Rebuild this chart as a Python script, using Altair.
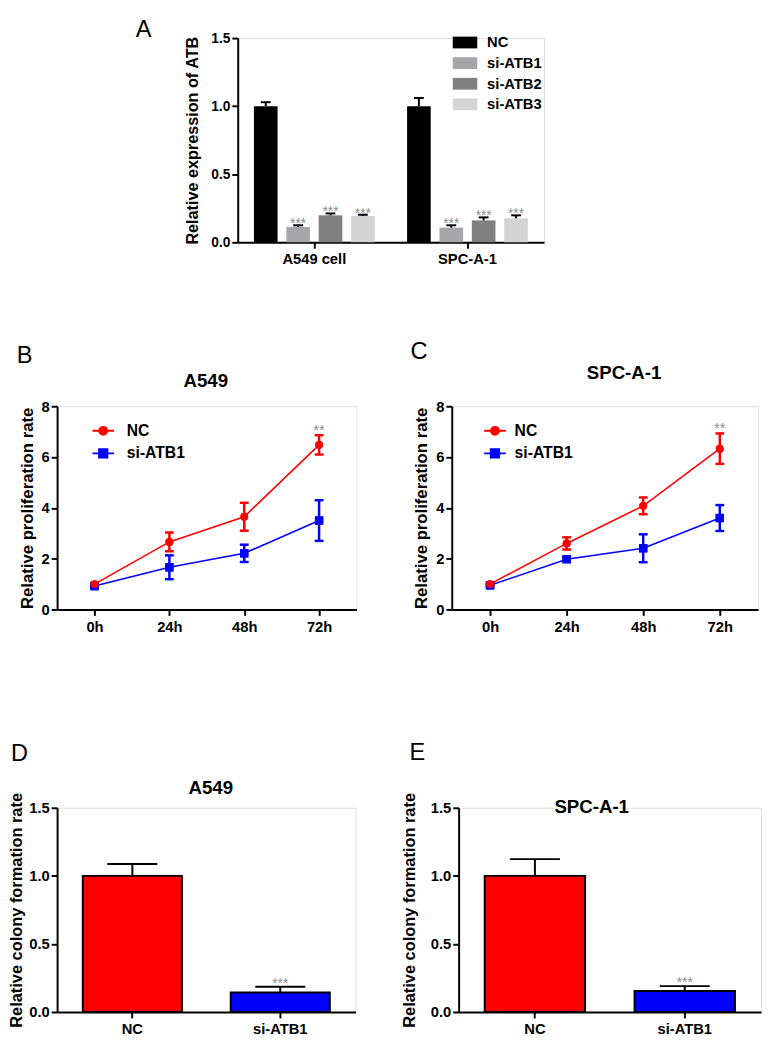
import altair as alt
import pandas as pd

FONT = "Liberation Sans"
STAR_COLOR = "#8c8c8c"

# ---------------- Panel A data ----------------
a_cells = ["A549 cell", "SPC-A-1"]
a_groups = ["NC", "si-ATB1", "si-ATB2", "si-ATB3"]
a_colors = ["#000000", "#a6a6aa", "#808080", "#d4d4d4"]
a_a549_mean = [1.0, 0.113, 0.198, 0.193]
a_a549_err = [0.029, 0.012, 0.014, 0.009]
a_spc_mean = [1.0, 0.108, 0.161, 0.176]
a_spc_err = [0.06, 0.017, 0.022, 0.022]
a_stars = ["", "***", "***", "***"]

# ---------------- Panels B, C data ----------------
times = ["0h", "24h", "48h", "72h"]
series = ["NC", "si-ATB1"]
series_colors = ["#ff0000", "#0000ff"]
b_nc_mean = [1.0, 2.66, 3.65, 6.48]
b_nc_err = [0.04, 0.37, 0.55, 0.38]
b_si_mean = [0.92, 1.66, 2.21, 3.5]
b_si_err = [0.05, 0.47, 0.34, 0.8]
c_nc_mean = [1.0, 2.6, 4.08, 6.33]
c_nc_err = [0.04, 0.24, 0.33, 0.6]
c_si_mean = [0.95, 1.98, 2.41, 3.6]
c_si_err = [0.05, 0.08, 0.55, 0.51]
line_stars = ["", "", "", "**"]

# ---------------- Panels D, E data ----------------
bar_groups = ["NC", "si-ATB1"]
d_mean = [1.0, 0.144]
d_err = [0.087, 0.041]
e_mean = [1.0, 0.154]
e_err = [0.123, 0.036]
bar_stars = ["", "***"]

NC_PATH = "M-2.75,0H2.75M-1,0A1,1,0,1,0,1,0A1,1,0,1,0,-1,0Z"
SQ_PATH = "M-2.75,0H2.75M-1.05,-1.05H1.05V1.05H-1.05Z"
RECT_PATH = "M-1,-0.48H1V0.48H-1Z"

INDEP = dict(color="independent", fill="independent", stroke="independent",
             shape="independent")
NOVIEW = alt.ViewBackground(stroke="transparent", strokeWidth=0, fill="transparent")


def y_axis(title, values, fmt, title_pad, title_size=17, label_size=15):
    return alt.Axis(title=title, values=values, format=fmt, grid=False,
                    domainColor="black", domainWidth=2, tickColor="black",
                    tickWidth=2, tickSize=6, labelPadding=2, labelFont=FONT,
                    labelFontSize=label_size, labelFontWeight="bold", labelColor="black",
                    titleFont=FONT, titleFontSize=title_size, titleFontWeight="bold",
                    titleColor="black", titlePadding=title_pad)


def x_axis():
    return alt.Axis(title=None, labelAngle=0, domainColor="black", domainWidth=2,
                    tickColor="black", tickWidth=2, tickSize=6, labelPadding=4,
                    labelFont=FONT, labelFontSize=15, labelFontWeight="bold",
                    labelColor="black", grid=False)


def top_axis(title, tx, ty):
    return alt.Axis(orient="top", domain=False, ticks=False, labels=False, grid=False,
                    title=title, titleX=tx, titleY=ty, titleAlign="center",
                    titleBaseline="middle", titleFont=FONT, titleFontSize=19,
                    titleFontWeight="bold", titleColor="black")


def letter_title(letter, dx, dy, offset=0):
    return alt.TitleParams(letter, anchor="start", frame="group", dx=dx, dy=dy,
                           offset=offset, font=FONT, fontSize=24, fontWeight="normal",
                           color="black")


def spacer(w, h):
    return alt.Chart(pd.DataFrame({"v": [0]})).mark_rule(strokeOpacity=0, opacity=0).encode(
        x=alt.value(0), y=alt.value(0), y2=alt.value(1)).properties(width=w, height=h, view=NOVIEW)


# ---------------- Panel A ----------------
a_rows = []
for cell, means, errs in [("A549 cell", a_a549_mean, a_a549_err),
                          ("SPC-A-1", a_spc_mean, a_spc_err)]:
    for g, m, e, st in zip(a_groups, means, errs, a_stars):
        a_rows.append(dict(cell=cell, group=g, mean=m, hi=m + e, star=st))
dfa = pd.DataFrame(a_rows)

xs_a = alt.Scale(domain=a_cells, paddingInner=0, paddingOuter=0)
xo_a = alt.XOffset("group:N", scale=alt.Scale(domain=a_groups, paddingInner=0.27, paddingOuter=0.5))
ys_a = alt.Scale(domain=[0, 1.5], nice=False)
yax_a = y_axis("Relative expression of ATB", [0, 0.5, 1.0, 1.5], ".1f", 11, 16.5, 14)

legend_a = alt.Legend(orient="none", legendX=219, legendY=-8, title=None,
                      symbolType=RECT_PATH, symbolSize=625, symbolStrokeWidth=0,
                      labelFont=FONT, labelFontSize=15, labelFontWeight="bold",
                      labelColor="black", rowPadding=-1, labelOffset=10, padding=0)

base_a = alt.Chart(dfa)
bars_a = base_a.mark_bar().encode(
    x=alt.X("cell:N", scale=xs_a, axis=x_axis()),
    xOffset=xo_a,
    y=alt.Y("mean:Q", scale=ys_a, axis=yax_a),
    color=alt.Color("group:N", scale=alt.Scale(domain=a_groups, range=a_colors), legend=legend_a),
)
rule_a = base_a.mark_rule(color="black", strokeWidth=2).encode(
    x=alt.X("cell:N", scale=xs_a, axis=x_axis()), xOffset=xo_a,
    y=alt.Y("mean:Q", scale=ys_a, axis=yax_a), y2="hi:Q")
cap_a = base_a.mark_tick(color="black", thickness=2, size=10, opacity=1).encode(
    x=alt.X("cell:N", scale=xs_a, axis=x_axis()), xOffset=xo_a,
    y=alt.Y("hi:Q", scale=ys_a, axis=yax_a))
star_a = base_a.mark_text(color=STAR_COLOR, font=FONT, fontSize=14, baseline="alphabetic", dy=3).encode(
    x=alt.X("cell:N", scale=xs_a, axis=x_axis()), xOffset=xo_a,
    y=alt.Y("hi:Q", scale=ys_a, axis=yax_a), text="star:N")
panelA = alt.layer(bars_a, rule_a, cap_a, star_a).properties(
    width=312, height=208, title=letter_title("A", -104, 12))


# ---------------- Panels B, C ----------------
def line_panel(letter, letter_dx, letter_dy, title, tx, ty, nc_mean, nc_err, si_mean, si_err,
               legend_x, label_off, width):
    rows = []
    for s, m, e in [("si-ATB1", si_mean, si_err), ("NC", nc_mean, nc_err)]:
        for t, mv, ev, st in zip(times, m, e, line_stars):
            rows.append(dict(time=t, series=s, mean=mv, lo=mv - ev, hi=mv + ev,
                             star=st if s == "NC" else ""))
    df = pd.DataFrame(rows)
    xs = alt.Scale(type="point", domain=times, padding=0.5)
    ys = alt.Scale(domain=[0, 8], nice=False)
    yax = y_axis("Relative proliferation rate", [0, 2, 4, 6, 8], "d", 5)

    def Y(f):
        return alt.Y(f + ":Q", scale=ys, axis=yax)

    x_none = alt.X("time:N", scale=xs, axis=None)
    shape_sig = "datum.value === '%s' ? '%s' : '%s'" % (series[0], NC_PATH, SQ_PATH)
    col_sig = "datum.value === '%s' ? '%s' : '%s'" % (series[0], series_colors[0], series_colors[1])
    leg = alt.Legend(orient="none", legendX=legend_x, legendY=17, title=None,
                     direction="vertical", labelFont=FONT, labelFontSize=16,
                     labelFontWeight="bold", labelColor="black", symbolSize=64,
                     symbolType={"expr": shape_sig}, symbolStrokeColor={"expr": col_sig},
                     symbolFillColor={"expr": col_sig},
                     symbolStrokeWidth=2, symbolOpacity=1, rowPadding=6, labelOffset=label_off,
                     padding=0)
    cscale = alt.Scale(domain=series, range=series_colors)
    col = alt.Color("series:N", scale=cscale, legend=leg)
    base = alt.Chart(df)
    nc = base.transform_filter(alt.datum.series == "NC")
    si = base.transform_filter(alt.datum.series == "si-ATB1")
    layers = [
        nc.mark_circle(size=64, opacity=1).encode(
            x=alt.X("time:N", scale=xs, axis=x_axis()), y=Y("mean"), color=col),
        si.mark_square(size=72, opacity=1).encode(
            x=alt.X("time:N", scale=xs, axis=top_axis(title, tx, ty)), y=Y("mean"), color=col),
    ]
    for b in [si, nc]:
        layers.append(b.mark_line(strokeWidth=1.6).encode(x=x_none, y=Y("mean"), color=col))
        layers.append(b.mark_rule(strokeWidth=2.5).encode(x=x_none, y=Y("lo"), y2="hi:Q", color=col))
        layers.append(b.mark_tick(thickness=2.5, size=9, opacity=1).encode(x=x_none, y=Y("lo"), color=col))
        layers.append(b.mark_tick(thickness=2.5, size=9, opacity=1).encode(x=x_none, y=Y("hi"), color=col))
    layers.append(si.mark_square(size=72, opacity=1).encode(x=x_none, y=Y("mean"), color=col))
    layers.append(nc.mark_circle(size=64, opacity=1).encode(x=x_none, y=Y("mean"), color=col))
    layers.append(nc.mark_text(
        color=STAR_COLOR, font=FONT, fontSize=15, baseline="alphabetic", dy=0).encode(
        x=x_none, y=Y("hi"), text="star:N"))
    return alt.layer(*layers).resolve_axis(x="independent").properties(
        width=width, height=207, title=letter_title(letter, letter_dx, letter_dy))


panelB = line_panel("B", -41, -4, "A549", 151, -26, b_nc_mean, b_nc_err, b_si_mean, b_si_err, 39, 16, 305)
panelC = line_panel("C", -42, 0, "SPC-A-1", 175, -34, c_nc_mean, c_nc_err, c_si_mean, c_si_err, 36, 12, 312)


# ---------------- Panels D, E ----------------
def bar_panel(letter, letter_dx, letter_dy, title, tx, ty, means, errs, title_pad, width):
    df = pd.DataFrame(dict(group=bar_groups, mean=means,
                           hi=[m + e for m, e in zip(means, errs)], star=bar_stars))
    xs = alt.Scale(domain=bar_groups, paddingInner=0.33, paddingOuter=0.174)
    ys = alt.Scale(domain=[0, 1.5], nice=False)
    yax = y_axis("Relative colony formation rate", [0, 0.5, 1.0, 1.5], ".1f", title_pad, 16.7)

    def Y(f):
        return alt.Y(f + ":Q", scale=ys, axis=yax)

    x_none = alt.X("group:N", scale=xs, axis=None)
    base = alt.Chart(df)
    bars = base.mark_bar(stroke="black", strokeWidth=2).encode(
        x=alt.X("group:N", scale=xs, axis=x_axis()), y=Y("mean"),
        color=alt.Color("group:N", scale=alt.Scale(domain=bar_groups, range=series_colors), legend=None))
    rule = base.mark_rule(color="black", strokeWidth=2).encode(x=x_none, y=Y("mean"), y2="hi:Q")
    cap = base.mark_tick(color="black", thickness=2, size=51, opacity=1).encode(
        x=alt.X("group:N", scale=xs, axis=top_axis(title, tx, ty)), y=Y("hi"))
    stars = base.mark_text(color=STAR_COLOR, font=FONT, fontSize=14, baseline="alphabetic", dy=1).encode(
        x=x_none, y=Y("hi"), text="star:N")
    return alt.layer(bars, rule, cap, stars).resolve_axis(x="independent").properties(
        width=width, height=208, title=letter_title(letter, letter_dx, letter_dy))


panelD = bar_panel("D", -47, -13, "A549", 156, -21, d_mean, d_err, 3, 304)
panelE = bar_panel("E", -50, -28, "SPC-A-1", 135, -1, e_mean, e_err, 12, 308)

rowA = alt.hconcat(spacer(79, 10), panelA, spacing=0).resolve_scale(**INDEP).resolve_legend(**INDEP)
rowBC = alt.hconcat(panelB, panelC, spacing=53).resolve_scale(**INDEP).resolve_legend(**INDEP)
rowDE = alt.hconcat(panelD, panelE, spacing=45).resolve_scale(**INDEP).resolve_legend(**INDEP)

chart = alt.concat(rowA, spacer(10, 73), rowBC, spacer(10, 107), rowDE, columns=1,
                   spacing=0, align="none").resolve_scale(
    **INDEP).resolve_legend(**INDEP).properties(
    padding={"left": 0, "top": 0, "right": 0, "bottom": 0}
).configure_view(strokeWidth=0, stroke="transparent").configure(font=FONT)

chart.save("out.html", embed_options={"renderer": "svg", "actions": False})
